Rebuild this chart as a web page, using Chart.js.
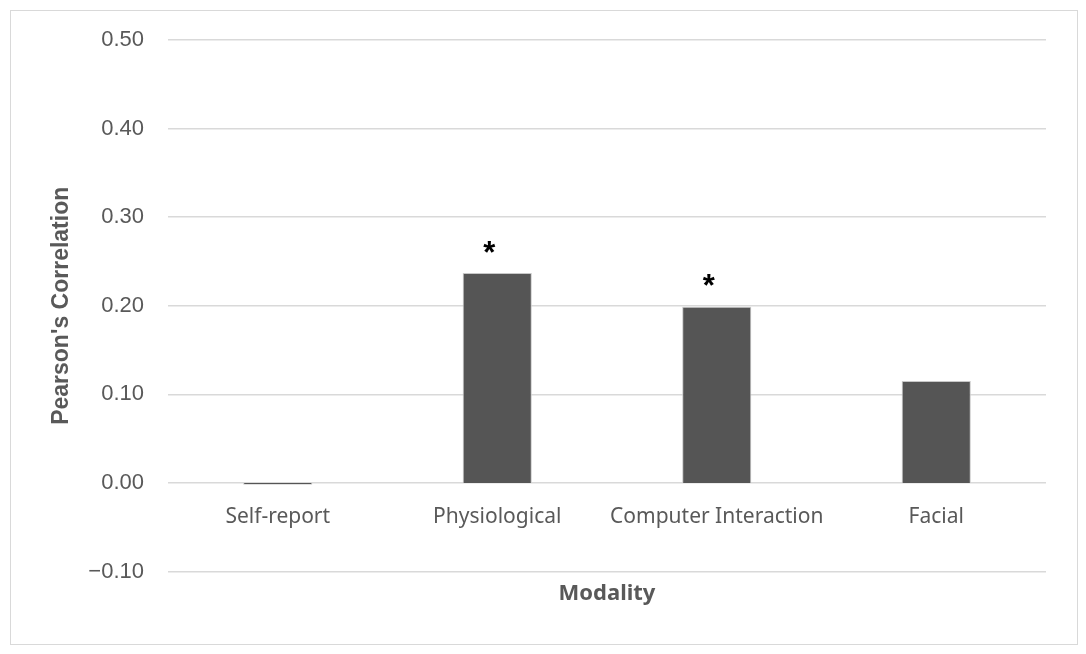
<!DOCTYPE html>
<html>
<head>
<meta charset="utf-8">
<script src="https://cdn.jsdelivr.net/npm/chart.js@4"></script>
<style>
  html, body { margin: 0; padding: 0; background: #ffffff; }
  #wrap { position: relative; width: 1086px; height: 654px; }
  #frame { position: absolute; left: 10px; top: 10px; width: 1068px; height: 635px;
           border: 1px solid #d9d9d9; box-sizing: border-box; pointer-events: none; }
</style>
</head>
<body>
<div id="wrap">
  <canvas id="c"></canvas>
  <div id="frame"></div>
</div>
<script>
const categories = ['Self-report', 'Physiological', 'Computer Interaction', 'Facial'];
const correlations = [-0.002, 0.237, 0.199, 0.115];
const significance = ['', '*', '*', ''];
const yMin = -0.1;
const yMax = 0.5;
const yStep = 0.1;

const starPlugin = {
  id: 'stars',
  afterDatasetsDraw(chart) {
    const meta = chart.getDatasetMeta(0);
    const ctx = chart.ctx;
    ctx.save();
    ctx.fillStyle = '#000000';
    ctx.font = 'bold 31px "Liberation Sans", Arial, sans-serif';
    ctx.textAlign = 'center';
    ctx.textBaseline = 'middle';
    meta.data.forEach((bar, i) => {
      if (significance[i]) {
        ctx.fillText(significance[i], bar.x - 8, bar.y - 19);
      }
    });
    ctx.restore();
  }
};

new Chart(document.getElementById('c'), {
  type: 'bar',
  data: {
    labels: categories,
    datasets: [{
      data: correlations,
      backgroundColor: '#555555',
      borderColor: '#c8c8c8',
      borderWidth: 1,
      categoryPercentage: 1.0,
      barPercentage: 0.315
    }]
  },
  options: {
    responsive: true,
    maintainAspectRatio: false,
    animation: false,
    devicePixelRatio: 1,
    layout: { padding: { left: 0, right: 40, top: 40, bottom: 47 } },
    plugins: {
      legend: { display: false },
      tooltip: { enabled: false },
      title: {
        display: true,
        text: 'Modality',
        position: 'bottom',
        fullSize: false,
        color: '#595959',
        font: { family: '"Noto Sans", sans-serif', size: 22, weight: 'bold', lineHeight: 1.2 },
        padding: { top: 9, bottom: 0 }
      }
    },
    scales: {
      x: {
        type: 'category',
        position: { y: 0 },
        grid: { display: false, drawTicks: false },
        border: { display: false },
        ticks: {
          color: '#595959',
          font: { family: '"Noto Sans", sans-serif', size: 21, lineHeight: 1.2 },
          padding: 21,
          maxRotation: 0,
          autoSkip: false
        },
        afterFit(scale) { scale.height = 0; }
      },
      y: {
        min: yMin,
        max: yMax,
        grid: { color: '#d9d9d9', lineWidth: 1.5, drawTicks: false },
        border: { display: false },
        ticks: {
          stepSize: yStep,
          color: '#595959',
          padding: 24,
          font: { family: '"Liberation Sans", Arial, sans-serif', size: 22 },
          callback: (v) => (v < -1e-9 ? '\u2212' : '') + Math.abs(v).toFixed(2)
        },
        title: {
          display: true,
          text: "Pearson's Correlation",
          color: '#595959',
          font: { family: '"Liberation Sans", Arial, sans-serif', size: 23, weight: 'bold', lineHeight: 1.2 },
          padding: { top: 48, bottom: 0 }
        },
        afterFit(scale) { scale.width = 168; }
      }
    }
  },
  plugins: [starPlugin]
});
</script>
</body>
</html>
